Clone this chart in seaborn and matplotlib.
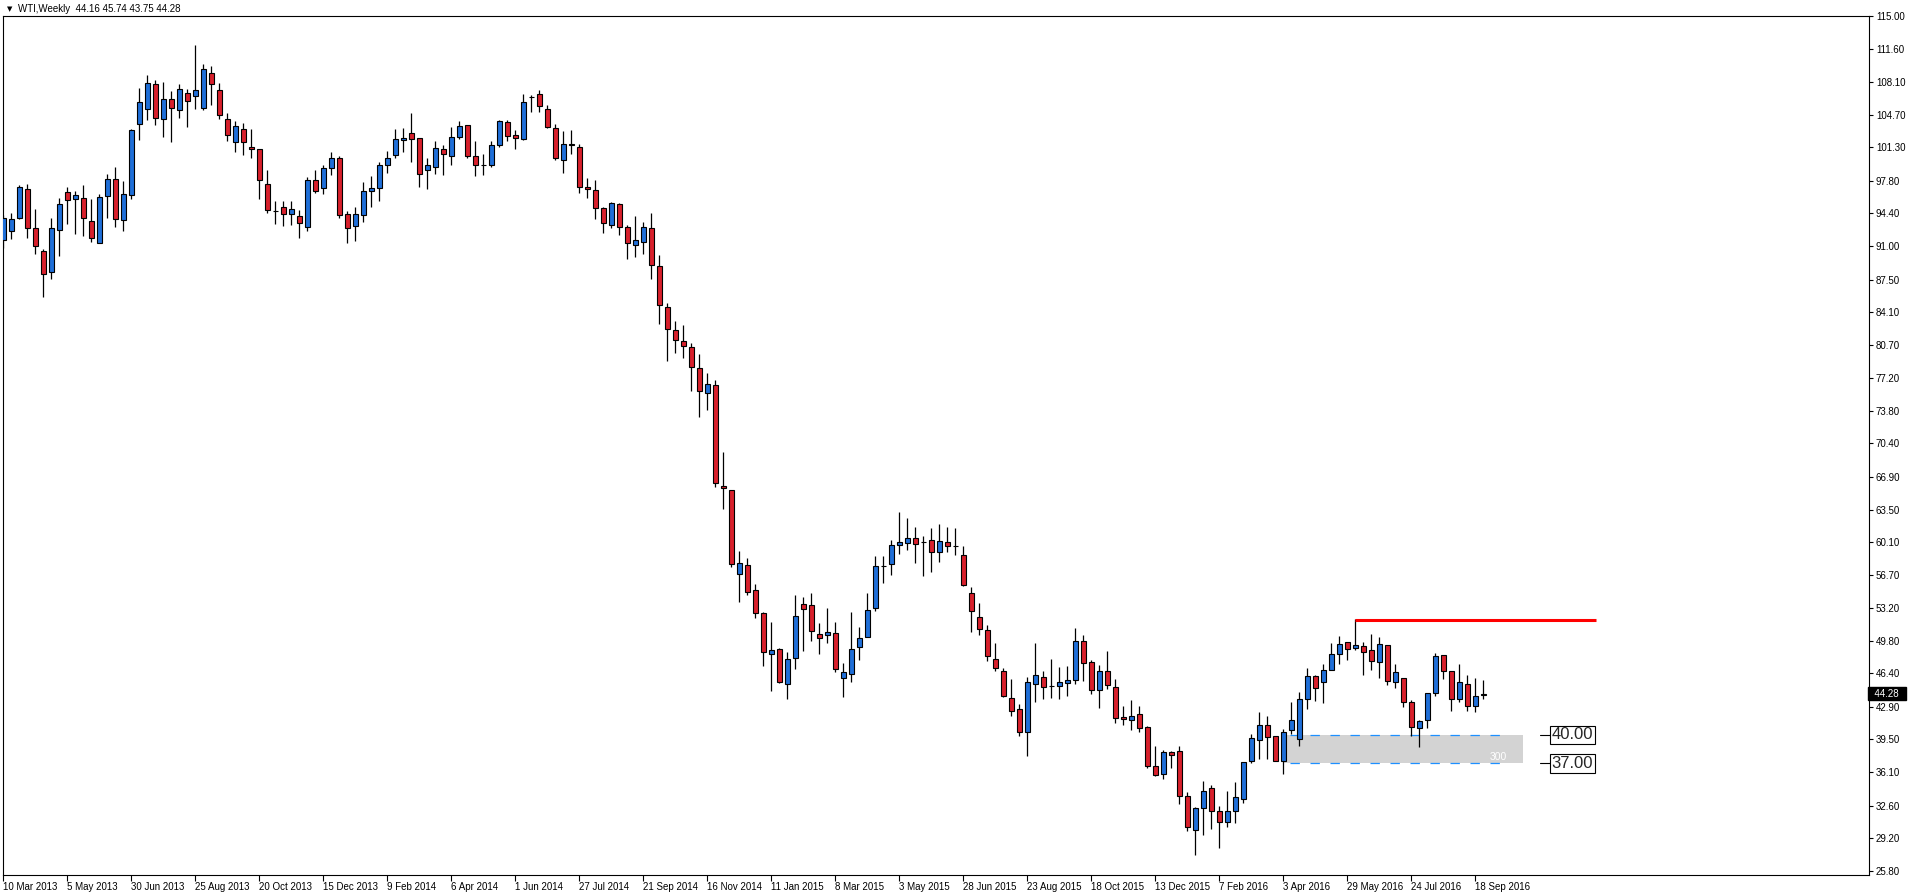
import numpy as np
import pandas as pd
import matplotlib
matplotlib.use('Agg')
import matplotlib.pyplot as plt
import matplotlib.transforms as mtransforms
from matplotlib.patches import Rectangle
import seaborn as sns

# Weekly WTI candles, first bar = week of 10 Mar 2013
opens = [
    91.59, 92.53, 93.88, 96.90, 92.84, 90.44, 88.25, 92.63, 96.59, 95.86,
    95.96, 93.57, 91.27, 96.17, 97.94, 93.67, 96.28, 103.78, 105.34, 107.95,
    104.30, 106.38, 105.24, 107.01, 106.70, 105.45, 109.09, 107.32, 104.30, 101.80,
    103.26, 101.38, 101.07, 97.52, 94.64, 95.02, 94.36, 94.08, 92.94, 97.84,
    97.00, 99.19, 100.23, 94.29, 93.04, 94.19, 96.69, 97.00, 99.50, 100.54,
    102.11, 102.84, 102.32, 98.88, 99.29, 101.17, 100.44, 102.42, 103.67, 100.34,
    99.50, 99.40, 101.59, 103.98, 102.53, 102.18, 106.54, 106.90, 105.34, 103.36,
    100.00, 101.69, 101.38, 97.11, 96.80, 94.92, 93.22, 95.34, 93.01, 91.14,
    91.45, 92.91, 88.95, 84.67, 82.28, 81.06, 80.44, 78.25, 75.64, 76.48,
    65.95, 65.54, 56.78, 57.72, 55.12, 52.72, 48.45, 48.97, 45.32, 48.03,
    53.66, 53.55, 50.53, 50.43, 50.63, 45.95, 46.36, 49.18, 50.22, 53.24,
    57.65, 57.82, 59.80, 60.01, 60.53, 60.08, 60.33, 59.07, 60.12, 59.67,
    58.76, 54.80, 52.30, 50.95, 47.93, 46.68, 43.87, 42.72, 40.29, 45.32,
    46.05, 45.05, 45.12, 45.43, 45.74, 49.81, 47.62, 44.70, 46.68, 45.01,
    41.88, 41.57, 42.20, 40.84, 36.78, 35.95, 38.24, 38.34, 33.65, 30.01,
    32.40, 34.49, 32.09, 30.94, 31.99, 33.34, 37.30, 39.49, 41.05, 39.84,
    37.30, 40.53, 39.59, 43.76, 46.16, 45.53, 46.78, 48.45, 49.70, 49.08,
    49.28, 48.87, 47.62, 49.39, 45.53, 45.95, 43.45, 40.74, 41.57, 44.39,
    48.35, 46.68, 43.76, 45.32, 43.03, 44.16,
]
highs = [
    94.19, 94.44, 97.32, 97.46, 94.85, 90.65, 93.88, 96.00, 97.14, 96.73,
    97.35, 95.89, 96.38, 98.46, 99.23, 97.77, 103.26, 107.46, 108.82, 108.36,
    108.16, 107.22, 107.95, 107.43, 111.94, 110.03, 109.75, 108.05, 104.92, 104.09,
    103.88, 103.22, 101.17, 98.91, 95.68, 95.68, 95.68, 94.74, 98.25, 98.91,
    99.43, 100.79, 100.44, 94.61, 95.06, 97.66, 98.29, 99.75, 100.89, 103.18,
    103.29, 104.85, 102.32, 100.16, 101.93, 101.59, 103.39, 104.09, 103.67, 101.93,
    100.58, 102.00, 104.19, 104.19, 103.15, 106.90, 106.80, 107.25, 105.76, 103.78,
    102.95, 103.15, 101.69, 98.05, 97.84, 95.03, 95.55, 95.44, 93.22, 94.09,
    93.46, 94.40, 90.02, 85.09, 83.15, 82.73, 80.85, 79.71, 77.73, 77.00,
    69.53, 65.54, 59.21, 58.45, 55.77, 52.82, 51.71, 49.07, 48.59, 54.59,
    54.39, 54.80, 51.68, 53.27, 51.78, 47.51, 52.82, 51.19, 54.80, 58.66,
    58.66, 60.33, 63.24, 62.62, 61.68, 60.74, 61.58, 62.03, 61.68, 61.58,
    59.70, 55.43, 53.76, 51.47, 49.59, 46.99, 45.78, 43.24, 46.05, 49.53,
    46.68, 47.93, 47.10, 47.20, 51.16, 50.43, 47.83, 47.30, 48.76, 45.85,
    43.03, 43.66, 43.03, 40.95, 38.86, 38.45, 38.34, 38.86, 33.97, 32.47,
    35.22, 34.70, 32.61, 34.17, 35.11, 37.20, 40.11, 42.41, 41.99, 39.84,
    40.64, 43.45, 44.49, 46.99, 46.26, 47.41, 49.60, 50.33, 49.70, 52.10,
    49.70, 50.53, 50.22, 49.39, 47.41, 45.95, 43.66, 41.57, 44.39, 48.55,
    48.35, 46.68, 47.41, 46.26, 45.95, 45.74,
]
lows = [
    90.82, 91.76, 93.78, 91.86, 90.20, 85.72, 87.59, 89.99, 93.32, 92.28,
    92.07, 91.45, 91.27, 93.95, 93.01, 92.59, 95.93, 102.08, 104.16, 103.64,
    102.39, 101.87, 104.37, 103.43, 105.34, 105.20, 105.72, 104.26, 101.97, 100.83,
    100.51, 100.20, 95.92, 94.47, 93.32, 93.11, 93.22, 91.86, 92.59, 96.48,
    96.45, 98.43, 93.95, 91.34, 91.55, 93.53, 95.09, 95.72, 98.60, 100.20,
    100.82, 99.78, 97.18, 96.97, 98.53, 98.43, 99.47, 102.21, 100.23, 98.32,
    98.43, 99.29, 101.34, 102.00, 101.14, 102.08, 104.99, 104.99, 103.33, 99.99,
    98.64, 100.62, 96.55, 96.03, 93.84, 92.39, 92.91, 92.18, 89.68, 89.89,
    90.20, 87.59, 82.90, 79.05, 79.88, 79.26, 75.82, 73.11, 73.84, 65.85,
    63.52, 57.48, 53.83, 54.56, 52.16, 47.13, 44.56, 45.39, 43.72, 46.85,
    48.72, 49.77, 48.45, 49.56, 46.57, 43.93, 45.53, 47.79, 50.22, 52.93,
    55.84, 56.68, 58.87, 59.28, 57.93, 56.54, 56.96, 58.00, 59.07, 58.73,
    55.53, 50.70, 50.43, 47.68, 46.68, 43.97, 41.92, 39.87, 37.79, 43.41,
    43.73, 43.83, 43.73, 44.04, 45.32, 45.60, 44.25, 42.79, 44.80, 41.23,
    41.02, 40.50, 40.29, 36.54, 35.74, 35.39, 36.54, 32.79, 29.90, 27.47,
    29.56, 30.18, 28.20, 30.39, 30.81, 32.92, 37.09, 37.47, 37.47, 37.30,
    35.95, 40.11, 38.86, 42.72, 43.55, 43.34, 46.78, 47.41, 47.83, 48.87,
    46.26, 46.78, 45.95, 45.22, 44.91, 42.93, 39.91, 38.76, 40.74, 44.07,
    45.85, 42.51, 43.45, 42.51, 42.41, 43.75,
]
closes = [
    93.88, 93.78, 97.11, 92.91, 90.96, 88.04, 92.84, 95.34, 95.76, 96.28,
    93.88, 91.80, 96.07, 97.94, 93.78, 96.38, 103.15, 106.07, 108.05, 104.40,
    106.38, 105.45, 107.43, 106.18, 107.32, 109.51, 107.95, 104.72, 102.63, 103.47,
    101.80, 101.07, 97.84, 94.71, 94.64, 94.29, 94.81, 93.35, 97.84, 96.69,
    99.09, 100.13, 94.26, 92.83, 94.29, 96.69, 97.00, 99.50, 100.13, 102.21,
    102.32, 102.21, 98.56, 99.40, 101.27, 100.65, 102.42, 103.57, 100.34, 99.50,
    99.50, 101.59, 104.09, 102.52, 102.22, 106.07, 106.54, 105.65, 103.43, 100.20,
    101.69, 101.49, 97.11, 96.90, 94.92, 93.43, 95.44, 93.01, 91.34, 91.66,
    93.01, 89.05, 84.88, 82.31, 81.17, 80.61, 78.35, 75.85, 76.58, 66.27,
    65.75, 57.83, 57.93, 54.91, 52.72, 48.62, 48.86, 45.49, 47.93, 52.41,
    53.14, 50.84, 50.11, 50.74, 46.88, 46.57, 48.97, 50.11, 53.03, 57.62,
    57.65, 59.80, 60.12, 60.53, 59.91, 60.08, 59.07, 60.22, 59.70, 59.67,
    55.64, 52.93, 51.05, 48.24, 46.99, 44.07, 42.51, 40.29, 45.53, 46.26,
    45.01, 45.05, 45.53, 45.74, 49.81, 47.51, 44.70, 46.68, 45.22, 41.78,
    41.68, 41.99, 40.74, 36.78, 35.84, 38.24, 37.93, 33.65, 30.42, 32.40,
    34.17, 32.09, 30.84, 32.09, 33.45, 37.20, 39.70, 41.05, 39.73, 37.30,
    40.32, 41.57, 43.76, 46.16, 44.87, 46.78, 48.45, 49.49, 48.97, 49.39,
    48.66, 47.72, 49.49, 45.64, 46.57, 43.45, 40.84, 41.47, 44.39, 48.24,
    46.68, 43.76, 45.53, 43.03, 44.07, 44.28,
]

date_labels = ['10 Mar 2013', '5 May 2013', '30 Jun 2013', '25 Aug 2013', '20 Oct 2013',
               '15 Dec 2013', '9 Feb 2014', '6 Apr 2014', '1 Jun 2014', '27 Jul 2014',
               '21 Sep 2014', '16 Nov 2014', '11 Jan 2015', '8 Mar 2015', '3 May 2015',
               '28 Jun 2015', '23 Aug 2015', '18 Oct 2015', '13 Dec 2015', '7 Feb 2016',
               '3 Apr 2016', '29 May 2016', '24 Jul 2016', '18 Sep 2016']
label_step = 8   # one date label every 8 weekly bars

price_labels = ['115.00', '111.60', '108.10', '104.70', '101.30', '97.80', '94.40',
                '91.00', '87.50', '84.10', '80.70', '77.20', '73.80', '70.40', '66.90',
                '63.50', '60.10', '56.70', '53.20', '49.80', '46.40', '42.90', '39.50',
                '36.10', '32.60', '29.20', '25.80']

title_text = 'WTI,Weekly  44.16 45.74 43.75 44.28'
last_price = 44.28

# drawn objects (bar index / price)
resistance_price = 52.0
resistance_bars = (169, 199.1)
zone_top, zone_bottom = 40.0, 37.0
zone_bars = (160, 190)
zone_line_bars = (160.8, 187.3)
zone_note = '300'

BULL = '#1f6fd8'
BEAR = '#d8202c'

sns.set_theme(style='white')
plt.rcParams['font.family'] = ['Liberation Sans', 'DejaVu Sans']

W, H = 1912, 896
fig = plt.figure(figsize=(W / 100, H / 100), dpi=100)
fig.patch.set_facecolor('white')
ax = fig.add_axes([2.7 / W, 1 - 875 / H, (1869 - 2.7) / W, (875 - 16) / H])

df = pd.DataFrame({'open': opens, 'high': highs, 'low': lows, 'close': closes})
df['bar'] = np.arange(len(df))
df['body_low'] = df[['open', 'close']].min(axis=1)
df['body_h'] = (df['close'] - df['open']).abs()
df['color'] = np.where(df['close'] >= df['open'], BULL, BEAR)

# wicks then bodies
ax.vlines(df['bar'], df['low'], df['high'], color='black', lw=0.9, zorder=3)
ax.bar(df['bar'], df['body_h'], bottom=df['body_low'], width=0.6,
       color=df['color'], edgecolor='black', linewidth=0.8, zorder=4)

# support zone
ax.add_patch(Rectangle((zone_bars[0], zone_bottom), zone_bars[1] - zone_bars[0],
                       zone_top - zone_bottom, facecolor='#d3d3d3', edgecolor='none', zorder=1))
ax.hlines([zone_top, zone_bottom], *zone_line_bars, colors='#1e90ff', lw=0.9,
          linestyles=(0, (7.5, 8.5)), zorder=2)
ax.text(zone_line_bars[1] + 0.7, zone_bottom + 0.7, zone_note, color='white',
        fontsize=7.5, ha='right', va='center', zorder=2)
for lvl in (zone_top, zone_bottom):
    ax.plot([192.1, 193.4], [lvl, lvl], color='black', lw=0.8, zorder=5)
    ax.text(193.55, lvl, f'{lvl:.2f}', fontsize=12, ha='left', va='center', zorder=5,
            bbox=dict(boxstyle='square,pad=0.1', fc='white', ec='black', lw=0.8))

# resistance line
ax.hlines(resistance_price, *resistance_bars, color='#ff0000', lw=2.2, zorder=5)

ax.set_xlim(-0.075, 233.2)
ax.set_ylim(25.36, 114.85)

# axes styling
for side in ['left', 'right', 'bottom', 'top']:
    ax.spines[side].set_color('black')
    ax.spines[side].set_linewidth(0.8)
ax.grid(False)

ax.yaxis.tick_right()
ax.set_yticks([float(v) for v in price_labels])
ax.set_yticklabels(price_labels)
ax.tick_params(axis='y', right=True, left=False, length=3, width=0.8, pad=2,
               labelsize=7, colors='black', direction='out')

ax.set_xticks(df['bar'][::label_step].values)
ax.set_xticklabels(date_labels)
ax.tick_params(axis='x', bottom=True, length=4, width=0.8, pad=1,
               labelsize=7, colors='black', direction='out')
for lbl in ax.get_xticklabels():
    lbl.set_ha('left')

# current price tag on the price scale
blend = mtransforms.blended_transform_factory(ax.transAxes, ax.transData)
ax.text(1.0, last_price, '  ' + f'{last_price:.2f}' + '  ', transform=blend, ha='left',
        va='center', fontsize=7, color='white', clip_on=False, zorder=6,
        bbox=dict(boxstyle='square,pad=0.15', fc='black', ec='black'))

# chart caption
fig.text(9.5 / W, 1 - 9 / H, '\u25bc', fontsize=5, ha='center', va='center',
         family='DejaVu Sans', color='black')
fig.text(18 / W, 1 - 9 / H, title_text, fontsize=7, ha='left', va='center', color='black')

fig.savefig('out.png', dpi=100, facecolor='white')
